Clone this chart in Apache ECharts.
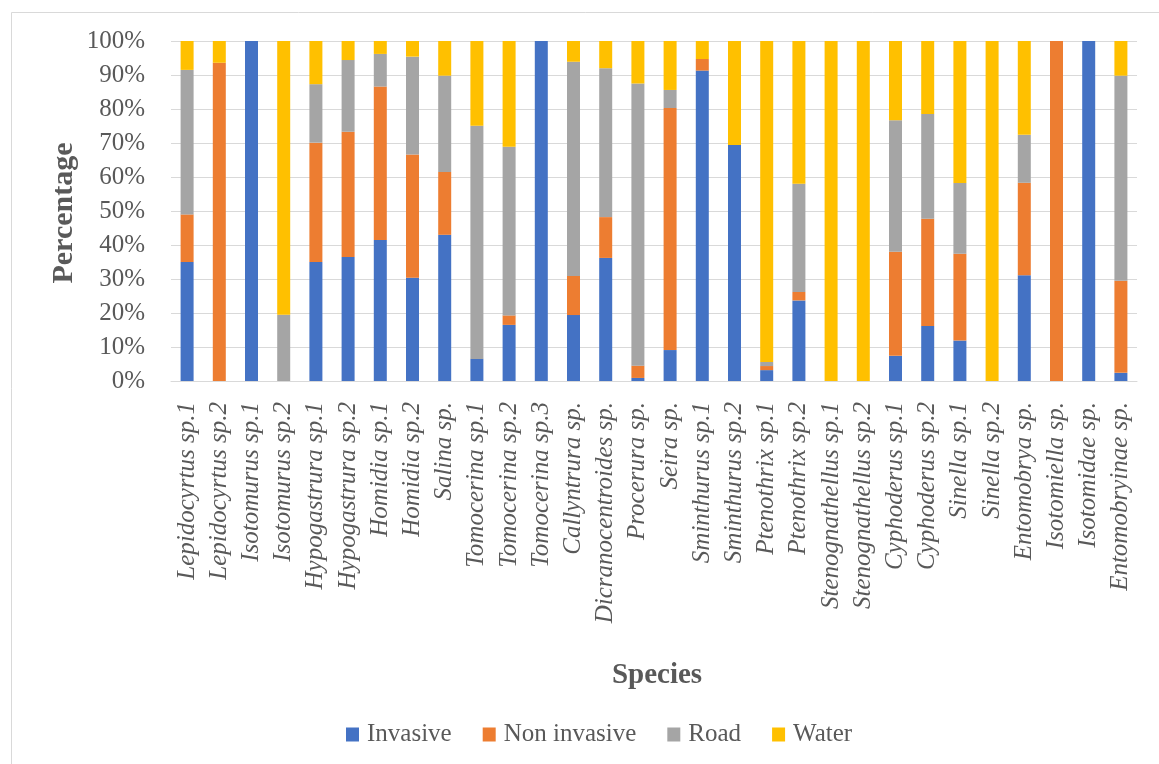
<!DOCTYPE html>
<html>
<head>
<meta charset="utf-8">
<script src="https://cdn.jsdelivr.net/npm/echarts@6/dist/echarts.min.js"></script>
<style>
  html, body { margin: 0; padding: 0; background: #fff; }
  #chart { width: 1159px; height: 764px; }
</style>
</head>
<body>
<div id="chart"></div>
<script>
// Springtail species and the share (%) of each habitat group
const species = [
  'Lepidocyrtus sp.1', 'Lepidocyrtus sp.2', 'Isotomurus sp.1', 'Isotomurus sp.2',
  'Hypogastrura sp.1', 'Hypogastrura sp.2', 'Homidia sp.1', 'Homidia sp.2',
  'Salina sp.', 'Tomocerina sp.1', 'Tomocerina sp.2', 'Tomocerina sp.3',
  'Callyntrura sp.', 'Dicranocentroides sp.', 'Procerura sp.', 'Seira sp.',
  'Sminthurus sp.1', 'Sminthurus sp.2', 'Ptenothrix sp.1', 'Ptenothrix sp.2',
  'Stenognathellus sp.1', 'Stenognathellus sp.2', 'Cyphoderus sp.1', 'Cyphoderus sp.2',
  'Sinella sp.1', 'Sinella sp.2', 'Entomobrya sp.', 'Isotomiella sp.',
  'Isotomidae sp.', 'Entomobryinae sp.'
];

const invasive = [
  35.0, 0, 100, 0, 35.0, 36.5, 41.5, 30.4, 43.0, 6.5, 16.5, 100,
  19.4, 36.2, 0.9, 9.1, 91.3, 69.4, 3.2, 23.7, 0, 0, 7.4, 16.2,
  11.9, 0, 31.1, 0, 100, 2.4
];
const nonInvasive = [
  14.0, 93.6, 0, 0, 35.1, 36.8, 45.1, 36.2, 18.5, 0, 2.8, 0,
  11.5, 12.0, 3.6, 71.2, 3.4, 0, 1.2, 2.5, 0, 0, 30.6, 31.5,
  25.5, 0, 27.2, 100, 0, 27.1
];
const road = [
  42.5, 0, 0, 19.5, 17.2, 21.1, 9.6, 28.8, 28.3, 68.6, 49.6, 0,
  63.0, 43.8, 83.0, 5.3, 0, 0, 1.2, 31.8, 0, 0, 38.7, 30.8,
  20.8, 0, 14.1, 0, 0, 60.3
];
const water = [
  8.5, 6.4, 0, 80.5, 12.7, 5.6, 3.8, 4.6, 10.2, 24.9, 31.1, 0,
  6.1, 8.0, 12.5, 14.4, 5.3, 30.6, 94.4, 42.0, 100, 100, 23.3, 21.5,
  41.8, 100, 27.6, 0, 0, 10.2
];

const seriesNames = ['Invasive', 'Non invasive', 'Road', 'Water'];
const seriesValues = [invasive, nonInvasive, road, water];
const seriesColors = ['#4472C4', '#ED7D31', '#A5A5A5', '#FFC000'];

const serif = '"Liberation Serif", "Times New Roman", "DejaVu Serif", serif';
const textGray = '#595959';

const chart = echarts.init(document.getElementById('chart'), null, { renderer: 'canvas' });

chart.setOption({
  backgroundColor: '#ffffff',
  animation: false,
  grid: { left: 171, right: 22, top: 41, bottom: 383, containLabel: false },
  legend: {
    data: seriesNames,
    left: 341,
    top: 717,
    itemWidth: 13,
    itemHeight: 14,
    itemGap: 31,
    icon: 'rect',
    textStyle: { fontFamily: serif, fontSize: 25, color: textGray, padding: [0, 0, 0, 3] }
  },
  xAxis: {
    type: 'category',
    data: species,
    axisLine: { show: true, lineStyle: { color: '#D9D9D9', width: 1 } },
    axisTick: { show: false },
    axisLabel: {
      interval: 0,
      rotate: 90,
      margin: 21,
      fontFamily: serif,
      fontStyle: 'italic',
      fontSize: 25,
      color: textGray
    }
  },
  yAxis: {
    type: 'value',
    min: 0,
    max: 100,
    interval: 10,
    axisLine: { show: false },
    axisTick: { show: false },
    splitLine: { lineStyle: { color: '#D9D9D9', width: 1 } },
    axisLabel: {
      margin: 26,
      fontFamily: serif,
      fontSize: 25,
      color: textGray,
      formatter: v => v + '%'
    }
  },
  series: seriesNames.map((name, i) => ({
    name: name,
    type: 'bar',
    stack: 'total',
    barWidth: 13,
    data: seriesValues[i],
    itemStyle: { color: seriesColors[i] }
  })),
  graphic: [
    {
      type: 'rect',
      shape: { x: 11.5, y: 12.5, width: 1200, height: 800 },
      style: { fill: 'none', stroke: '#D9D9D9', lineWidth: 1 },
      silent: true
    },
    {
      type: 'text',
      x: 64,
      y: 213,
      rotation: Math.PI / 2,
      style: {
        text: 'Percentage',
        fontFamily: serif,
        fontWeight: 'bold',
        fontSize: 30,
        fill: textGray,
        textAlign: 'center',
        textVerticalAlign: 'middle'
      }
    },
    {
      type: 'text',
      x: 657,
      y: 676,
      style: {
        text: 'Species',
        fontFamily: serif,
        fontWeight: 'bold',
        fontSize: 29,
        fill: textGray,
        textAlign: 'center',
        textVerticalAlign: 'middle'
      }
    }
  ]
});
</script>
</body>
</html>
